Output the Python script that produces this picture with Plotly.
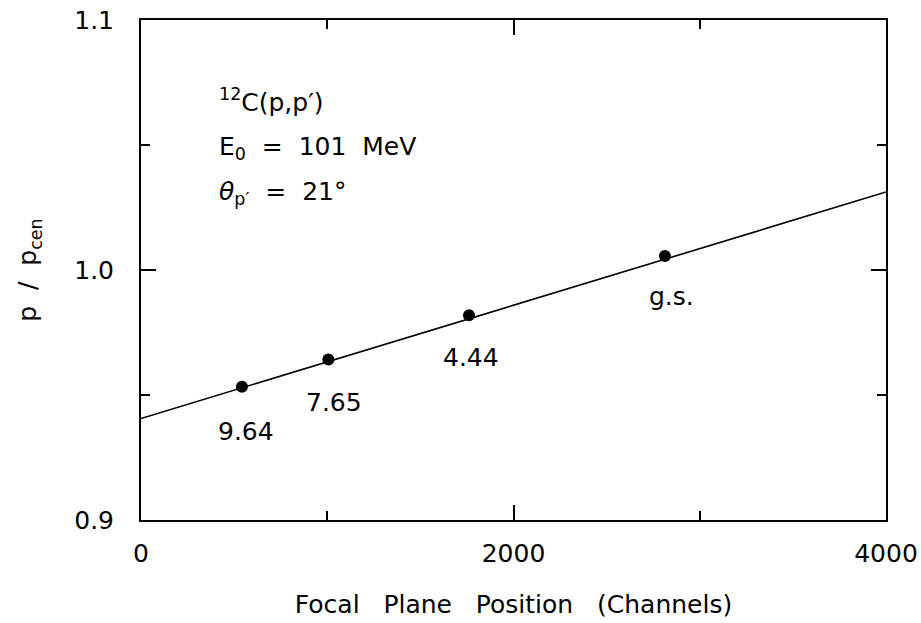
import plotly.graph_objects as go

# Data
pos_channels = [542, 1006, 1761, 2813]
p_ratio = [0.9533, 0.9642, 0.9819, 1.0056]
state_labels = ["9.64", "7.65", "4.44", "g.s."]
label_x = [565, 1035, 1770, 2850]
label_y = [0.9355, 0.9470, 0.9650, 0.9895]

fit_x = [0, 4000]
fit_y = [0.9406, 1.0312]

x_ticks = [0, 2000, 4000]
y_ticks = [0.9, 1.0, 1.1]
y_ticklabels = ["0.9", "1.0", "1.1"]

FONT = "DejaVu Sans"
FS = 25
NB = "\u00a0"

fig = go.Figure()
fig.add_trace(go.Scatter(x=fit_x, y=fit_y, mode="lines",
                         line=dict(color="black", width=1.6), showlegend=False,
                         hoverinfo="skip"))
fig.add_trace(go.Scatter(x=pos_channels, y=p_ratio, mode="markers",
                         marker=dict(color="black", size=12), showlegend=False))
for lx, ly, t in zip(label_x, label_y, state_labels):
    fig.add_annotation(x=lx, y=ly, text=t, showarrow=False,
                       font=dict(family=FONT, size=FS, color="black"),
                       xanchor="center", yanchor="middle")

info = [
    ("<sup>12</sup>C(p,p′)", 1.0680),
    ("E<sub>0</sub>" + NB*2 + "=" + NB*2 + "101" + NB*2 + "MeV", 1.0490),
    ("<i>θ</i><sub>p′</sub>" + NB*2 + "=" + NB*2 + "21°", 1.0310),
]
for t, yy in info:
    fig.add_annotation(x=410, y=yy, text=t, showarrow=False,
                       font=dict(family=FONT, size=FS, color="black"),
                       xanchor="left", yanchor="middle")

axis_common = dict(showgrid=False, zeroline=False, showline=True, linecolor="black",
                   linewidth=2, ticks="inside", tickcolor="black", tickwidth=1.6,
                   ticklen=15, mirror="allticks", automargin=False,
                   tickfont=dict(family=FONT, size=FS, color="black"))

fig.update_xaxes(range=[0, 4000], tickvals=x_ticks, ticktext=[str(v) for v in x_ticks],
                 ticklabelstandoff=10,
                 minor=dict(dtick=1000, tick0=0, ticklen=9, tickwidth=1.6,
                            ticks="inside", tickcolor="black"),
                 title=dict(text="Focal" + NB*3 + "Plane" + NB*3 + "Position" + NB*3 + "(Channels)",
                            font=dict(family=FONT, size=FS, color="black"), standoff=28),
                 **axis_common)
fig.update_yaxes(range=[0.9, 1.1], tickvals=y_ticks, ticktext=y_ticklabels,
                 ticklabelstandoff=20,
                 minor=dict(dtick=0.05, tick0=0.9, ticklen=9, tickwidth=1.6,
                            ticks="inside", tickcolor="black"),
                 title=dict(text="p" + NB*2 + "/" + NB*2 + "p<sub>cen</sub>",
                            font=dict(family=FONT, size=FS, color="black"), standoff=30),
                 **axis_common)

fig.update_layout(width=921, height=623, margin=dict(l=141, r=35, t=20, b=103),
                  plot_bgcolor="white", paper_bgcolor="white")

fig.write_html("out.html")
